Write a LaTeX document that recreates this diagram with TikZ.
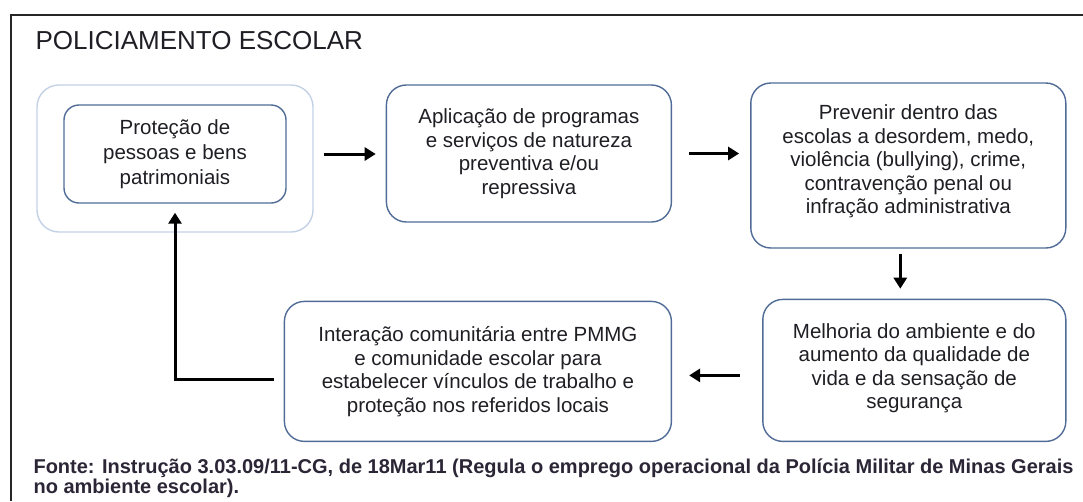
\documentclass[tikz,border=0pt]{standalone}
\usepackage{fontspec}
\setmainfont{Liberation Sans}
\usepackage{xcolor}
\usetikzlibrary{positioning, arrows.meta}

\definecolor{bordaazul}{HTML}{4F6B96}
\definecolor{bordaclara}{HTML}{C3D1E6}
\definecolor{textoescuro}{HTML}{1E1E24}
\definecolor{fonte}{HTML}{2B2536}

\begin{document}
\begin{tikzpicture}[x=1pt, y=-1pt, font=\fontsize{20.5}{23.5}\selectfont]
% Definição dos estilos
    \tikzstyle{caixa} = [rectangle, draw=bordaazul, line width=1.4pt, rounded corners=20pt, align=center, text=textoescuro, inner sep=0pt]
    \tikzstyle{moldura} = [rectangle, draw=bordaclara, line width=1.4pt, rounded corners=22pt, minimum width=276pt, minimum height=147pt]
    \tikzstyle{seta} = [draw, line width=3pt, -{Triangle[length=11pt, width=13pt]}]

    \useasboundingbox (0,0) rectangle (1083,501);
    \draw[line width=1.8pt, draw=black!85] (1083,15) -- (11,15) -- (11,501);

    % Título
    \node[anchor=base west, font=\fontsize{26}{30}\selectfont, text=textoescuro] (titulo) at (32,49) {POLICIAMENTO ESCOLAR};

    % Linha de cima
    \node[moldura] (outer) at (175,158.5) {};
    \node[caixa, rounded corners=15pt, minimum width=222pt, minimum height=98pt, yshift=4.5pt] (prot) at (outer) {Proteção de\\[1.5pt]pessoas e bens\\[1.5pt]patrimoniais};
    \node[caixa, minimum width=285pt, minimum height=137pt, right=72pt of outer, yshift=5pt] (aplic) {Aplicação de programas\\e serviços de natureza\\preventiva e/ou\\repressiva};
    \node[caixa, minimum width=315pt, minimum height=165pt, right=78pt of aplic, yshift=-12pt] (prev) {Prevenir dentro das\\escolas a desordem, medo,\\violência (bullying), crime,\\contravenção penal ou\\infração administrativa\\[-11.5pt]};

    % Linha de baixo
    \node[caixa, minimum width=303pt, minimum height=142pt, below=50pt of prev, xshift=6pt] (melh) {Melhoria do ambiente e do\\aumento da qualidade de\\vida e da sensação de\\segurança\\[-14.5pt]};
    \node[caixa, minimum width=387pt, minimum height=140pt, left=90pt of melh, yshift=-1pt] (inter) {Interação comunitária entre PMMG\\e comunidade escolar para\\estabelecer vínculos de trabalho e\\proteção nos referidos locais};

    % Fonte
    \node[anchor=base west, align=left, font=\fontsize{20}{20}\selectfont\bfseries, text=fonte] (legenda) at (30,493) {Fonte: Instrução 3.03.09/11-CG, de 18Mar11 (Regula o emprego operacional da Polícia Militar de Minas Gerais\\no ambiente escolar).};

    % Conexões
    \path [seta, shorten <=10pt, shorten >=10pt] (outer.east |- prot.east) -- (aplic.west |- prot.east);
    \path [seta, shorten <=17pt, shorten >=11pt] (aplic.east) -- (prev.west |- aplic.east);
    \path [seta, shorten <=5pt, shorten >=10pt] ([xshift=-8pt]prev.south) -- ([xshift=-8pt]prev.south |- melh.north);
    \path [seta, shorten <=22pt, shorten >=17pt] ([yshift=-5pt]melh.west) -- ([yshift=-5pt]melh.west -| inter.east);
    \path [seta, shorten <=10pt, shorten >=9pt] ([yshift=-8pt]inter.west) -| (prot.south);
\end{tikzpicture}
\end{document}
